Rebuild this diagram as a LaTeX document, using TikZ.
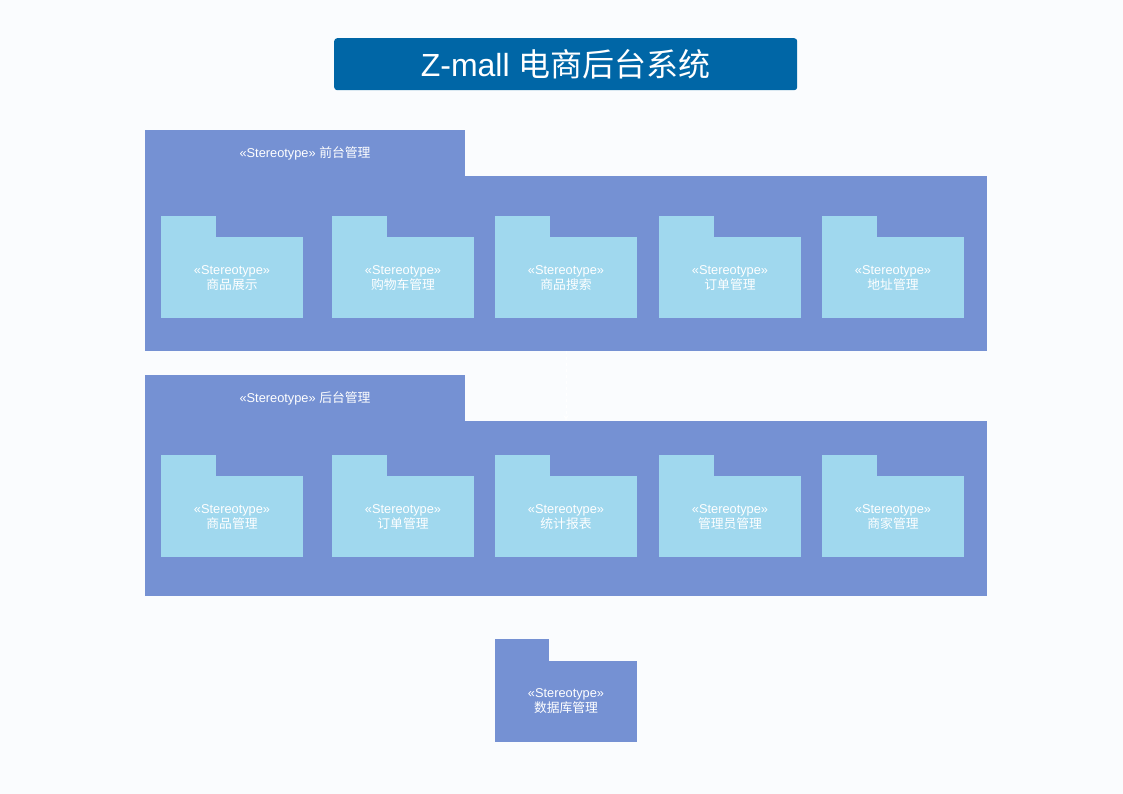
\documentclass[tikz,border=0pt]{standalone}
\usepackage{fontspec}
\setmainfont{Liberation Sans}
\newfontfamily\cjk{Noto Sans CJK SC}
\usetikzlibrary{arrows.meta}
\definecolor{bg}{RGB}{250,252,254}
\definecolor{titleblue}{RGB}{0,102,166}
\definecolor{pkgblue}{RGB}{117,145,211}
\definecolor{subblue}{RGB}{160,216,238}
\newcommand\stereotxt{«Stereotype»}
\begin{document}
\begin{tikzpicture}[x=1pt,y=-1pt,
  box/.style={anchor=north west, inner sep=0pt, outer sep=0pt, text=white,
    font=\fontsize{12.8}{15}\selectfont, align=center},
  bigtab/.style={box, fill=pkgblue, minimum width=320pt, minimum height=46pt},
  bigbody/.style={box, fill=pkgblue, minimum width=842pt, minimum height=175pt},
  subtab/.style={box, fill=subblue, minimum width=55pt, minimum height=22pt},
  subbody/.style={box, fill=subblue, minimum width=142pt, minimum height=81pt, text depth=0pt},
  dbtab/.style={box, fill=pkgblue, minimum width=54pt, minimum height=23pt},
  dbbody/.style={box, fill=pkgblue, minimum width=142pt, minimum height=81pt},
  dep/.style={white, dashed, line width=0.6pt, -{Stealth[length=6pt,width=5pt]}}]
\fill[bg] (0,0) rectangle (1123,794);
\useasboundingbox (0,0) rectangle (1123,794);

% title
\node[anchor=north west, inner sep=0pt, fill=titleblue, rounded corners=3pt,
  minimum width=463pt, minimum height=52pt, text=white,
  font=\fontsize{32}{36}\selectfont] (title) at (334,38) {Z-mall {\cjk 电商后台系统}};

% front package
\node[bigbody] (fbody) at (145,176) {};
\node[bigtab] (ftab) at (145,130) {\stereotxt\ {\cjk 前台管理}};
\node[subtab] (f1t) at (161,216) {};
\node[subbody] (f1) at (161,237) {\stereotxt\\{\cjk 商品展示}};
\node[subtab] (f2t) at (332,216) {};
\node[subbody] (f2) at (332,237) {\stereotxt\\{\cjk 购物车管理}};
\node[subtab] (f3t) at (495,216) {};
\node[subbody] (f3) at (495,237) {\stereotxt\\{\cjk 商品搜索}};
\node[subtab] (f4t) at (659,216) {};
\node[subbody] (f4) at (659,237) {\stereotxt\\{\cjk 订单管理}};
\node[subtab] (f5t) at (822,216) {};
\node[subbody] (f5) at (822,237) {\stereotxt\\{\cjk 地址管理}};

% back package
\node[bigbody] (bbody) at (145,421) {};
\node[bigtab] (btab) at (145,375) {\stereotxt\ {\cjk 后台管理}};
\node[subtab] (b1t) at (161,455) {};
\node[subbody] (b1) at (161,476) {\stereotxt\\{\cjk 商品管理}};
\node[subtab] (b2t) at (332,455) {};
\node[subbody] (b2) at (332,476) {\stereotxt\\{\cjk 订单管理}};
\node[subtab] (b3t) at (495,455) {};
\node[subbody] (b3) at (495,476) {\stereotxt\\{\cjk 统计报表}};
\node[subtab] (b4t) at (659,455) {};
\node[subbody] (b4) at (659,476) {\stereotxt\\{\cjk 管理员管理}};
\node[subtab] (b5t) at (822,455) {};
\node[subbody] (b5) at (822,476) {\stereotxt\\{\cjk 商家管理}};

% database package
\node[dbtab] (dbt) at (495,639) {};
\node[dbbody] (db) at (495,661) {\stereotxt\\{\cjk 数据库管理}};

% faint dependency
\draw[dep] (fbody.south) -- (bbody.north);
\end{tikzpicture}
\end{document}
